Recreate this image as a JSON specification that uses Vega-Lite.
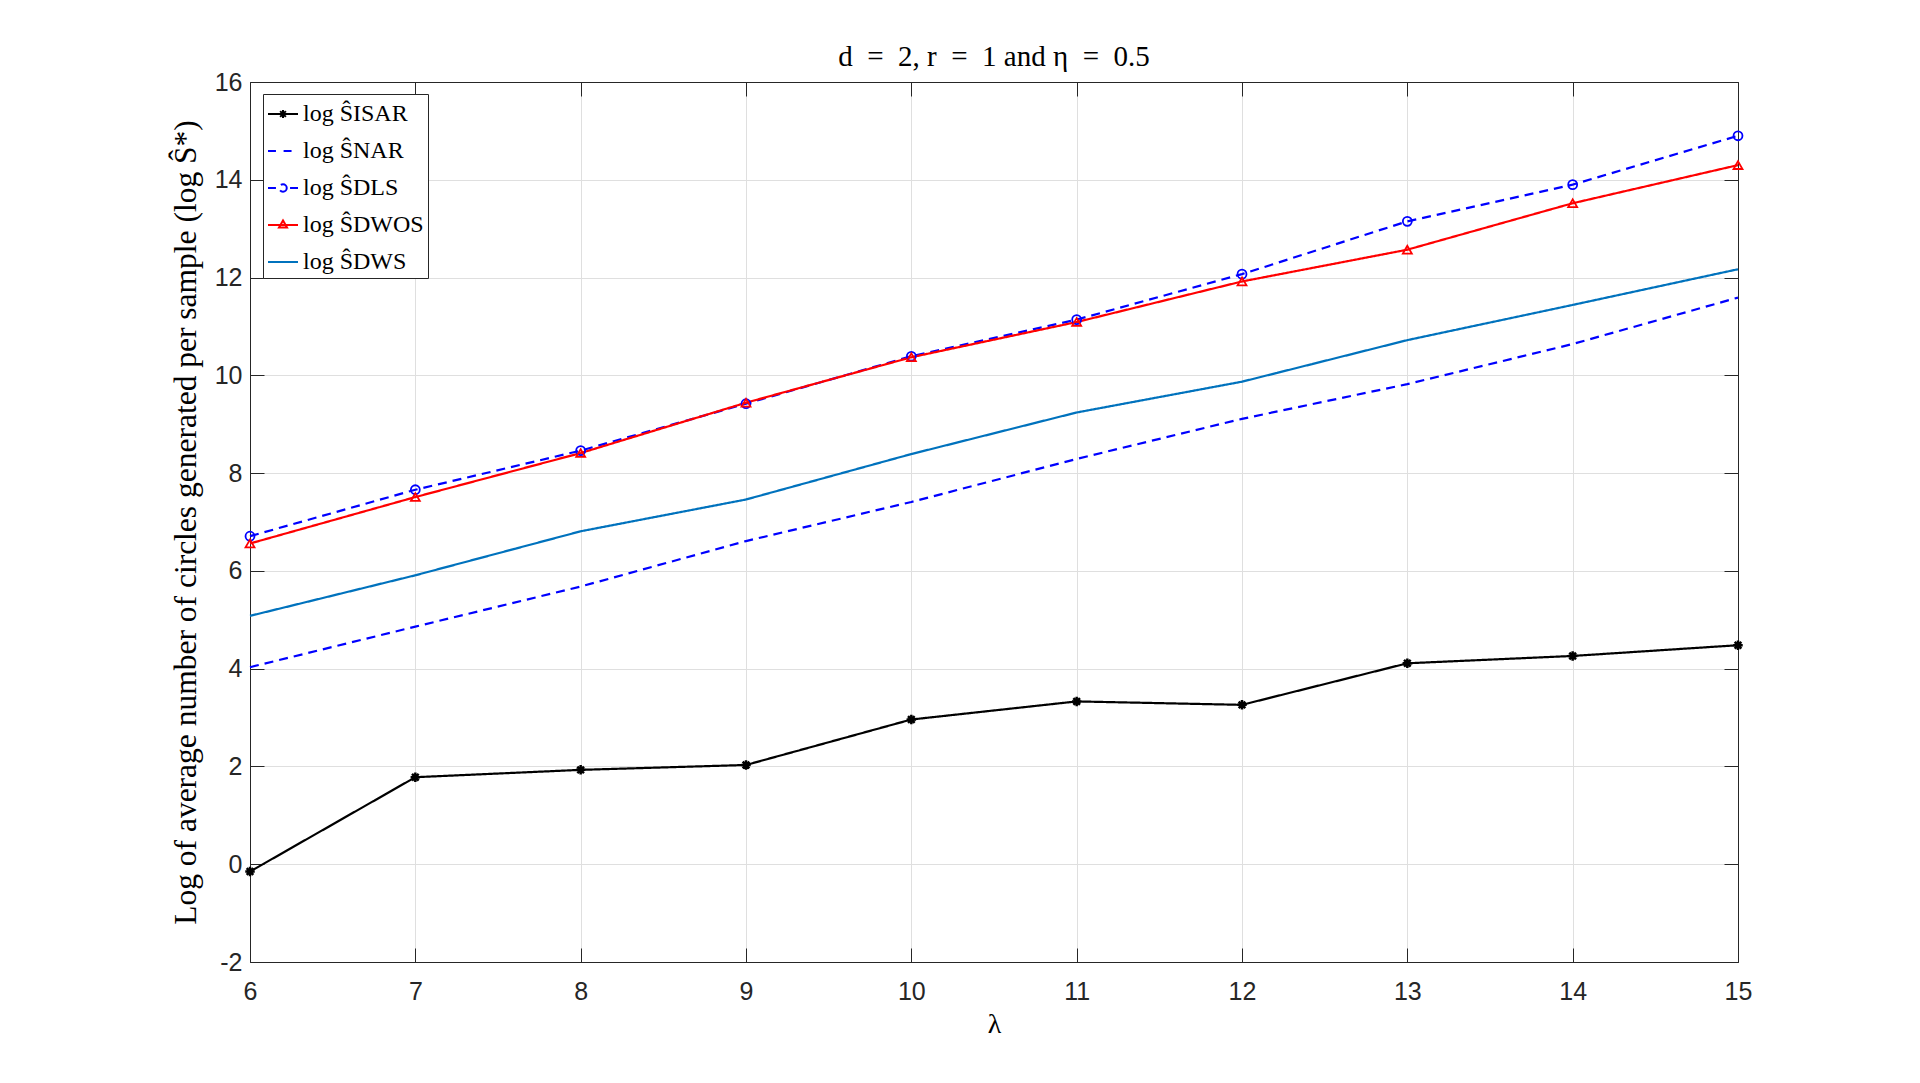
{
  "$schema": "https://vega.github.io/schema/vega-lite/v6.json",
  "width": 1488,
  "height": 880,
  "autosize": {"type": "none"},
  "padding": {"left": 250, "top": 82, "right": 182, "bottom": 121},
  "background": "white",
  "title": {"text": "d\u2002=\u20022, r\u2002=\u20021 and η\u2002=\u20020.5", "font": "Liberation Serif", "fontSize": 29, "fontWeight": "normal", "color": "#000000", "offset": -2, "anchor": "middle"},
  "data": {"values": [
    {"lam": 6, "series": "ISAR", "v": -0.15}, {"lam": 7, "series": "ISAR", "v": 1.78}, {"lam": 8, "series": "ISAR", "v": 1.93}, {"lam": 9, "series": "ISAR", "v": 2.03}, {"lam": 10, "series": "ISAR", "v": 2.96}, {"lam": 11, "series": "ISAR", "v": 3.33}, {"lam": 12, "series": "ISAR", "v": 3.26}, {"lam": 13, "series": "ISAR", "v": 4.11}, {"lam": 14, "series": "ISAR", "v": 4.26}, {"lam": 15, "series": "ISAR", "v": 4.48},
    {"lam": 6, "series": "NAR", "v": 4.03}, {"lam": 7, "series": "NAR", "v": 4.86}, {"lam": 8, "series": "NAR", "v": 5.68}, {"lam": 9, "series": "NAR", "v": 6.61}, {"lam": 10, "series": "NAR", "v": 7.41}, {"lam": 11, "series": "NAR", "v": 8.29}, {"lam": 12, "series": "NAR", "v": 9.11}, {"lam": 13, "series": "NAR", "v": 9.82}, {"lam": 14, "series": "NAR", "v": 10.64}, {"lam": 15, "series": "NAR", "v": 11.59},
    {"lam": 6, "series": "DLS", "v": 6.71}, {"lam": 7, "series": "DLS", "v": 7.66}, {"lam": 8, "series": "DLS", "v": 8.46}, {"lam": 9, "series": "DLS", "v": 9.42}, {"lam": 10, "series": "DLS", "v": 10.39}, {"lam": 11, "series": "DLS", "v": 11.14}, {"lam": 12, "series": "DLS", "v": 12.07}, {"lam": 13, "series": "DLS", "v": 13.15}, {"lam": 14, "series": "DLS", "v": 13.90}, {"lam": 15, "series": "DLS", "v": 14.90},
    {"lam": 6, "series": "DWOS", "v": 6.56}, {"lam": 7, "series": "DWOS", "v": 7.51}, {"lam": 8, "series": "DWOS", "v": 8.41}, {"lam": 9, "series": "DWOS", "v": 9.44}, {"lam": 10, "series": "DWOS", "v": 10.37}, {"lam": 11, "series": "DWOS", "v": 11.09}, {"lam": 12, "series": "DWOS", "v": 11.92}, {"lam": 13, "series": "DWOS", "v": 12.57}, {"lam": 14, "series": "DWOS", "v": 13.52}, {"lam": 15, "series": "DWOS", "v": 14.30},
    {"lam": 6, "series": "DWS", "v": 5.08}, {"lam": 7, "series": "DWS", "v": 5.91}, {"lam": 8, "series": "DWS", "v": 6.81}, {"lam": 9, "series": "DWS", "v": 7.46}, {"lam": 10, "series": "DWS", "v": 8.39}, {"lam": 11, "series": "DWS", "v": 9.24}, {"lam": 12, "series": "DWS", "v": 9.87}, {"lam": 13, "series": "DWS", "v": 10.72}, {"lam": 14, "series": "DWS", "v": 11.44}, {"lam": 15, "series": "DWS", "v": 12.17}
  ]},
  "resolve": {"axis": {"x": "independent", "y": "independent"}},
  "config": {
    "view": {"stroke": null},
    "axis": {
      "domainColor": "#262626", "domainWidth": 1,
      "tickColor": "#262626", "tickWidth": 1, "tickSize": -14,
      "labelColor": "#262626", "labelFont": "Liberation Sans", "labelFontSize": 25, "labelFlush": false,
      "gridColor": "#dfdfdf", "gridWidth": 1,
      "titleFont": "Liberation Serif", "titleFontWeight": "normal", "titleColor": "#000000"
    },
    "legend": {
      "orient": "none", "legendX": 13, "legendY": 12,
      "strokeColor": "#262626", "fillColor": "white", "padding": 4,
      "labelFont": "Liberation Serif", "labelFontSize": 24, "labelColor": "#000000", "labelOffset": 4,
      "symbolSize": 900, "symbolStrokeWidth": 2, "rowPadding": 9, "title": null
    }
  },
  "layer": [
    {
      "mark": {"type": "line", "strokeWidth": 2.2},
      "encoding": {
        "x": {"field": "lam", "type": "quantitative", "scale": {"domain": [6, 15], "nice": false, "zero": false},
              "axis": {"orient": "bottom", "values": [6, 7, 8, 9, 10, 11, 12, 13, 14, 15], "title": "λ", "titleFontSize": 28, "titlePadding": 6, "labelPadding": 31, "grid": true}},
        "y": {"field": "v", "type": "quantitative", "scale": {"domain": [-2, 16], "nice": false, "zero": false},
              "axis": {"orient": "left", "values": [-2, 0, 2, 4, 6, 8, 10, 12, 14, 16], "title": "Log of average number of circles generated per sample (log Ŝ*)", "titleFontSize": 31.5, "titlePadding": 12, "labelPadding": 22, "grid": true,
                       "labelExpr": "datum.value < 0 ? '-' + abs(datum.value) : '' + datum.value"}},
        "color": {"field": "series", "type": "nominal", "scale": {"domain": ["ISAR", "NAR", "DLS", "DWOS", "DWS"], "range": ["#000000", "#0000ff", "#0000ff", "#ff0000", "#0072bd"]},
                  "legend": {"labelExpr": "'log Ŝ' + datum.label"}},
        "strokeDash": {"field": "series", "type": "nominal", "scale": {"domain": ["ISAR", "NAR", "DLS", "DWOS", "DWS"], "range": [[1, 0], [9, 6], [9, 6], [1, 0], [1, 0]]}, "legend": null}
      }
    },
    {
      "transform": [{"filter": "datum.series === 'ISAR'"}],
      "mark": {"type": "point", "shape": "M-1,0L1,0M0,-1L0,1M-0.7,-0.7L0.7,0.7M-0.7,0.7L0.7,-0.7", "size": 90, "strokeWidth": 2.5, "filled": false, "opacity": 1},
      "encoding": {
        "x": {"field": "lam", "type": "quantitative", "axis": null},
        "y": {"field": "v", "type": "quantitative", "axis": null},
        "color": {"field": "series", "type": "nominal"}
      }
    },
    {
      "transform": [{"filter": "datum.series === 'DLS'"}],
      "mark": {"type": "point", "shape": "circle", "size": 80, "strokeWidth": 1.8, "filled": false, "opacity": 1},
      "encoding": {
        "x": {"field": "lam", "type": "quantitative", "axis": null},
        "y": {"field": "v", "type": "quantitative", "axis": null},
        "color": {"field": "series", "type": "nominal"}
      }
    },
    {
      "transform": [{"filter": "datum.series === 'DWOS'"}],
      "mark": {"type": "point", "shape": "triangle-up", "size": 80, "strokeWidth": 1.8, "filled": false, "opacity": 1},
      "encoding": {
        "x": {"field": "lam", "type": "quantitative", "axis": null},
        "y": {"field": "v", "type": "quantitative", "axis": null},
        "color": {"field": "series", "type": "nominal"}
      }
    },
    {
      "transform": [{"filter": "datum.v > 1000"}],
      "mark": {"type": "point", "filled": false, "opacity": 1, "strokeWidth": 2},
      "encoding": {
        "x": {"field": "lam", "type": "quantitative", "axis": {"orient": "top", "values": [6, 7, 8, 9, 10, 11, 12, 13, 14, 15], "labels": false, "grid": false, "title": null}},
        "y": {"field": "v", "type": "quantitative", "axis": {"orient": "right", "values": [-2, 0, 2, 4, 6, 8, 10, 12, 14, 16], "labels": false, "grid": false, "title": null}},
        "color": {"field": "series", "type": "nominal", "legend": {"labelExpr": "'log Ŝ' + datum.label"}},
        "shape": {"field": "series", "type": "nominal", "scale": {"domain": ["ISAR", "NAR", "DLS", "DWOS", "DWS"], "range": [
          "M-1,0L1,0M-0.27,0L0.27,0M0,-0.27L0,0.27M-0.19,-0.19L0.19,0.19M-0.19,0.19L0.19,-0.19",
          "M-1,0L-0.47,0M0.04,0L0.57,0",
          "M-1,0L-0.47,0M0.47,0L1,0M0.25,0A0.25,0.25,0,1,1,-0.25,0A0.25,0.25,0,1,1,0.25,0",
          "M-1,0L1,0M0,-0.3L0.27,0.17L-0.27,0.17Z",
          "M-1,0L1,0"
        ]}, "legend": {"labelExpr": "'log Ŝ' + datum.label"}}
      }
    }
  ]
}
